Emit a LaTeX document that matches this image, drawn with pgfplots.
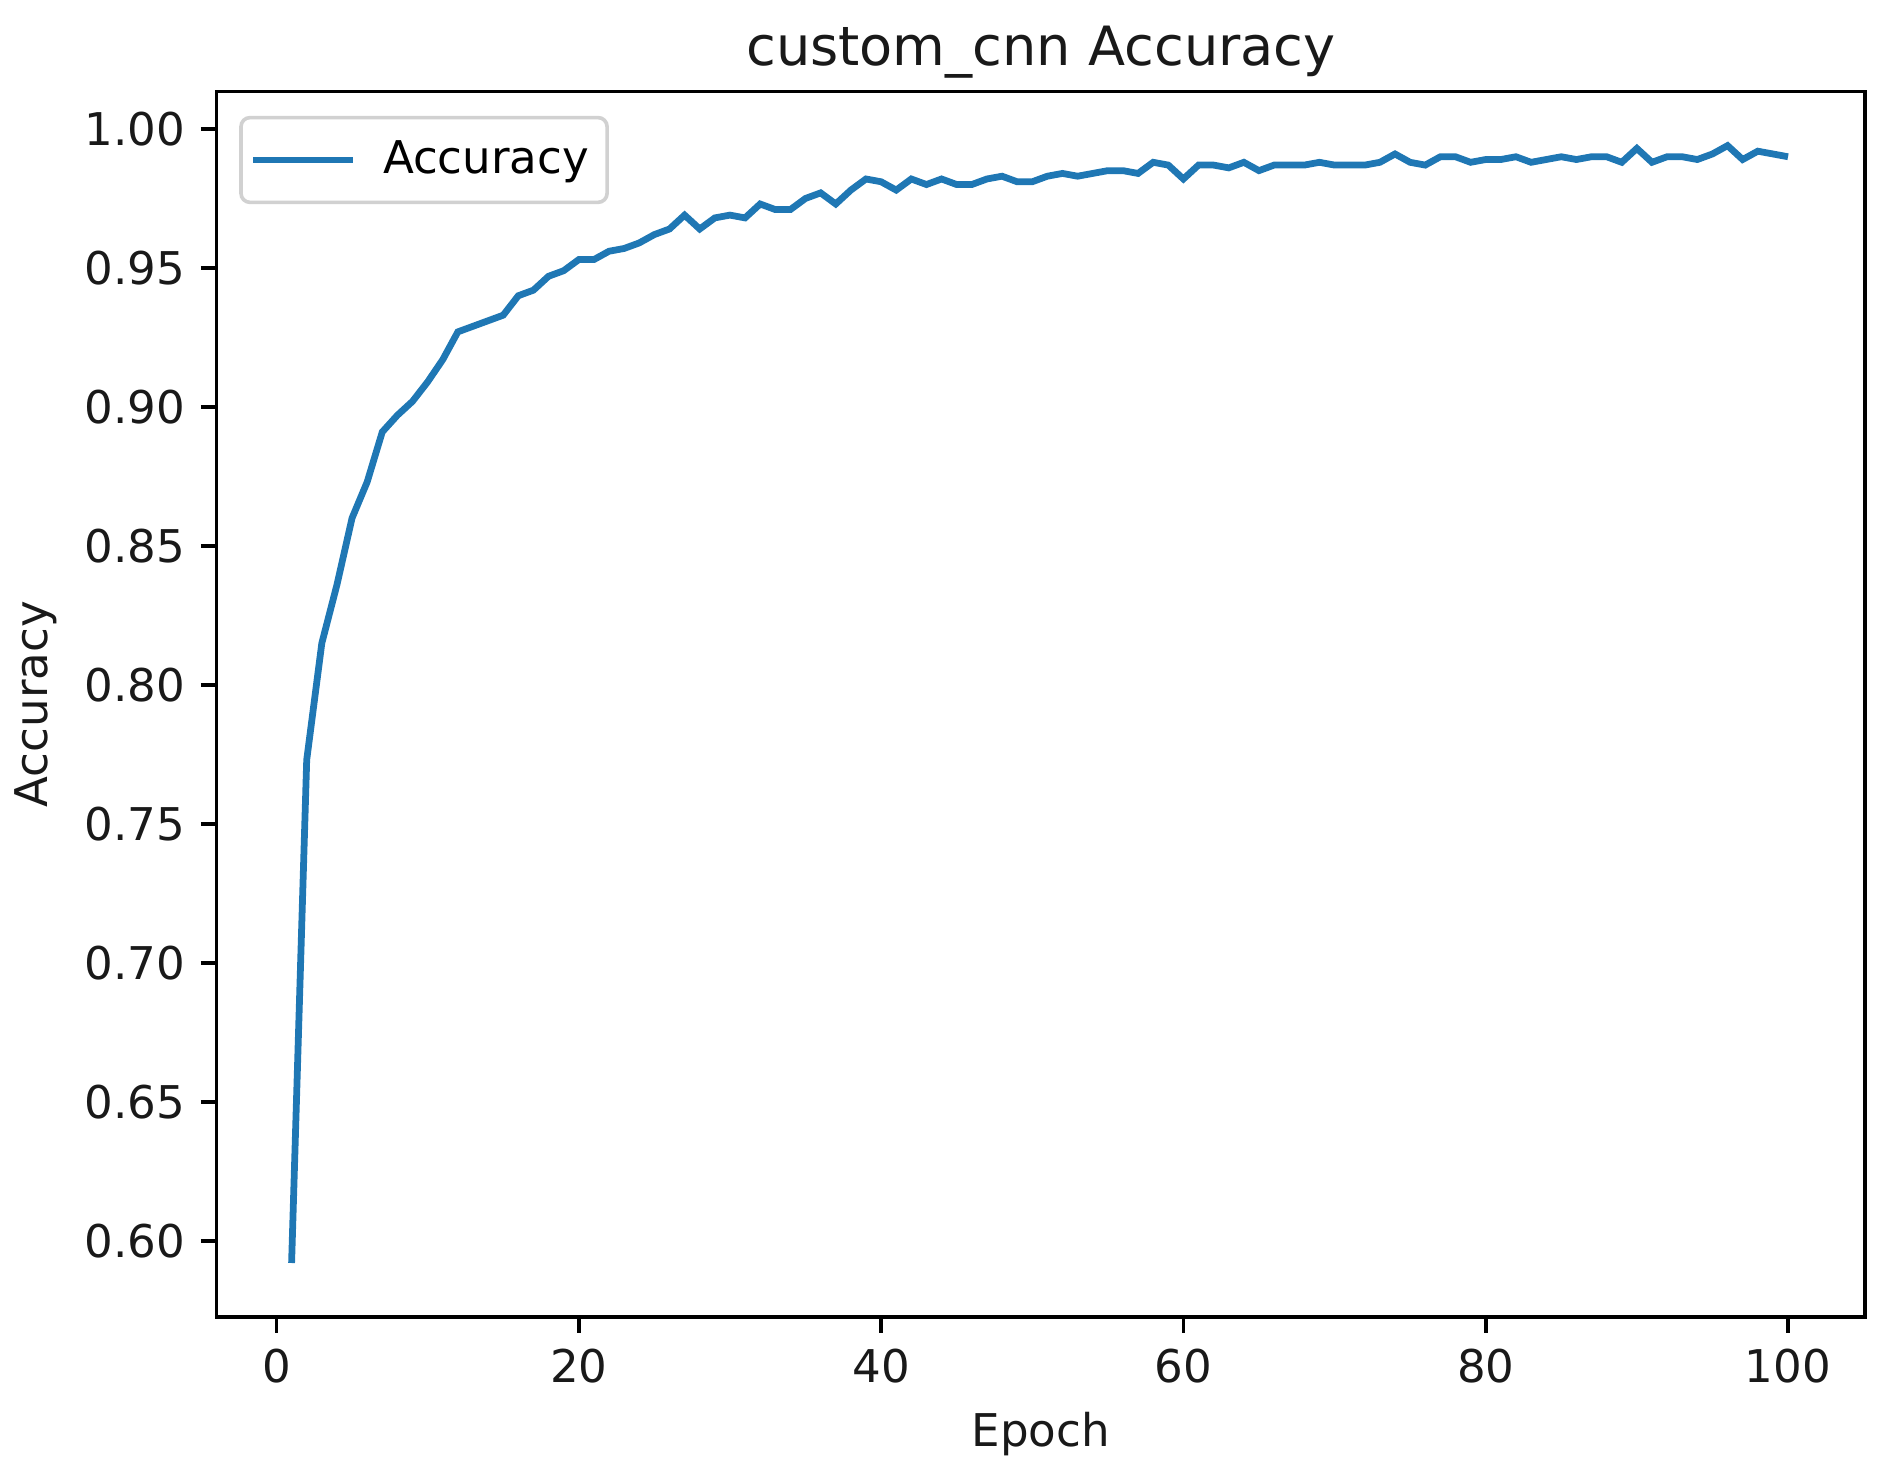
\documentclass[border=0pt]{standalone}
\usepackage{fontspec}
\setmainfont{DejaVu Sans}
\usepackage{pgfplots}
\pgfplotsset{compat=1.18}
\definecolor{mplblue}{HTML}{1F77B4}

\begin{document}
\begin{tikzpicture}
\begin{axis}[
  scale only axis,
  width=365.4pt, height=271.7pt,
  xmin=-3.96, xmax=105.1,
  ymin=0.5725, ymax=1.0135,
  xtick={0,20,...,100},
  ytick={0.60,0.65,...,1.001},
  yticklabel style={/pgf/number format/.cd,fixed,fixed zerofill,precision=2},
  /pgf/number format/assume math mode=true,
  tick label style={font=\fontsize{10}{12}\selectfont, black!90},
  label style={font=\fontsize{10}{12}\selectfont, black!90},
  tick align=outside,
  tick pos=left,
  major tick length=3.5pt,
  every tick/.style={line width=0.8pt, black},
  axis line style={line width=0.8pt},
  minor tick num=0,
  clip=false,
  title={custom\_cnn Accuracy},
  every axis title shift=0pt,
  title style={font=\fontsize{12}{14}\selectfont, black!90, anchor=base, at={(0.5,1)}, yshift=5.8pt, inner sep=0pt},
  xlabel={Epoch},
  ylabel={Accuracy},
  xlabel style={at={(0.5,0)}, anchor=center, yshift=-26pt},
  ylabel style={at={(0,0.5)}, anchor=center, yshift=40pt},
  legend style={at={(rel axis cs:0,1)}, anchor=north west, xshift=5pt, yshift=-5.4pt,
    draw=black!18, rounded corners=2pt, font=\fontsize{10}{12}\selectfont,
    inner xsep=2pt, inner ysep=3pt, line width=0.8pt},
  legend cell align=left,
  legend image code/.code={\draw[#1] (0pt,0pt) -- (22pt,0pt); \path (26pt,0pt);},
]
\path (rel axis cs:-0.1313,-0.1266) rectangle (rel axis cs:1.0127,1.0746);
\addplot[mplblue, line width=1.5pt] coordinates {
(1,0.592) (2,0.773) (3,0.815) (4,0.836) (5,0.860) (6,0.873) (7,0.891) (8,0.897) (9,0.902) (10,0.909)
(11,0.917) (12,0.927) (13,0.929) (14,0.931) (15,0.933) (16,0.940) (17,0.942) (18,0.947) (19,0.949) (20,0.953)
(21,0.953) (22,0.956) (23,0.957) (24,0.959) (25,0.962) (26,0.964) (27,0.969) (28,0.964) (29,0.968) (30,0.969)
(31,0.968) (32,0.973) (33,0.971) (34,0.971) (35,0.975) (36,0.977) (37,0.973) (38,0.978) (39,0.982) (40,0.981)
(41,0.978) (42,0.982) (43,0.980) (44,0.982) (45,0.980) (46,0.980) (47,0.982) (48,0.983) (49,0.981) (50,0.981)
(51,0.983) (52,0.984) (53,0.983) (54,0.984) (55,0.985) (56,0.985) (57,0.984) (58,0.988) (59,0.987) (60,0.982)
(61,0.987) (62,0.987) (63,0.986) (64,0.988) (65,0.985) (66,0.987) (67,0.987) (68,0.987) (69,0.988) (70,0.987)
(71,0.987) (72,0.987) (73,0.988) (74,0.991) (75,0.988) (76,0.987) (77,0.990) (78,0.990) (79,0.988) (80,0.989)
(81,0.989) (82,0.990) (83,0.988) (84,0.989) (85,0.990) (86,0.989) (87,0.990) (88,0.990) (89,0.988) (90,0.993)
(91,0.988) (92,0.990) (93,0.990) (94,0.989) (95,0.991) (96,0.994) (97,0.989) (98,0.992) (99,0.991) (100,0.990)
};
\addlegendentry{Accuracy}
\end{axis}
\end{tikzpicture}
\end{document}
